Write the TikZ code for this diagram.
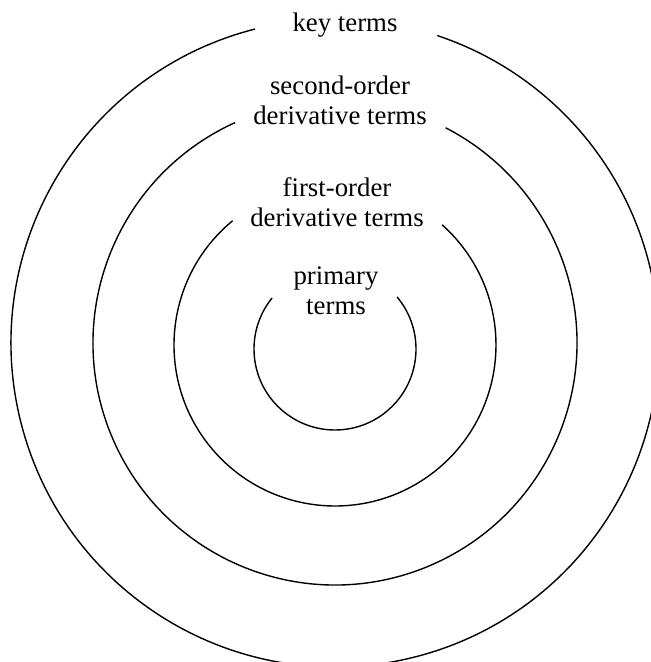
\documentclass[tikz,border=0pt]{standalone}
\usepackage{fontspec}
\setmainfont{Liberation Serif}
\begin{document}
\begin{tikzpicture}[x=1pt,y=1pt,
  ring/.style={line width=1.4pt},
  lab/.style={font=\fontsize{26.8}{30}\selectfont, align=center, inner sep=0pt, anchor=base}]
\useasboundingbox (0,0) rectangle (651,662);
\clip (0,0) rectangle (651,662);
\coordinate (c1) at (335,319);
\coordinate (c2) at (335,319);
\coordinate (c3) at (335,317);
\coordinate (c4) at (335,313);
\draw[ring] (c1) ++(104.3:324) arc[start angle=104.3, end angle=431.6, radius=324];
\draw[ring] (c2) ++(114.4:242) arc[start angle=114.4, end angle=422.8, radius=242];
\draw[ring] (c3) ++(129.5:161) arc[start angle=129.5, end angle=408.3, radius=161];
\draw[ring] (c4) ++(141:81) arc[start angle=141, end angle=400, radius=81];
\node[lab] (key) at (345,630) {key terms};
\node[lab] (second) at (340,537) {second-order\\derivative terms};
\node[lab] (first) at (337,435) {first-order\\derivative terms};
\node[lab] (primary) at (336,347) {primary\\terms};
\end{tikzpicture}
\end{document}
